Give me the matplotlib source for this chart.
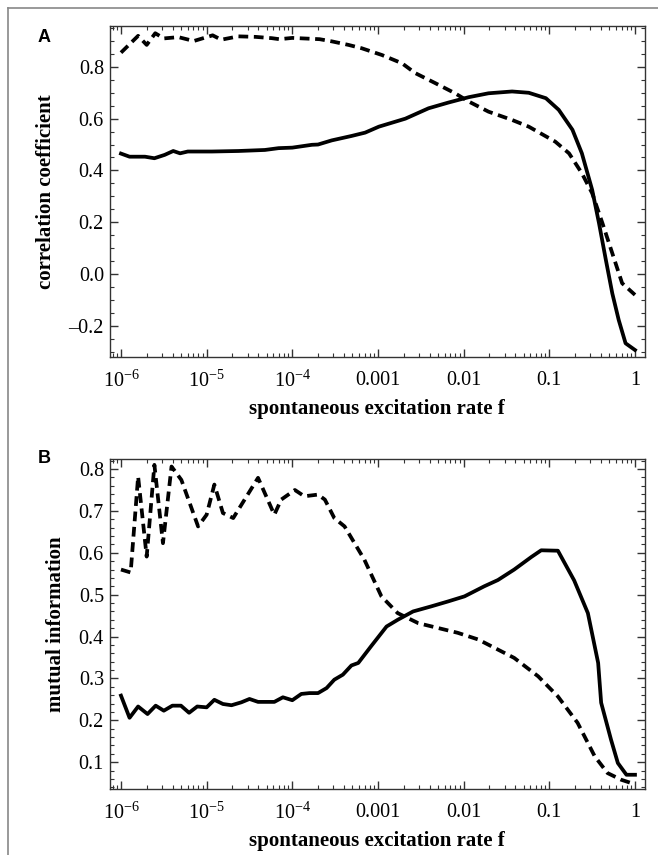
import matplotlib
matplotlib.use('Agg')
import matplotlib.pyplot as plt
from matplotlib.ticker import LogLocator, MultipleLocator, FixedLocator, FixedFormatter, NullFormatter
from matplotlib.lines import Line2D
import numpy as np

plt.rcParams['font.family'] = 'Liberation Serif'
plt.rcParams['mathtext.fontset'] = 'custom'
plt.rcParams['mathtext.rm'] = 'Liberation Serif'
plt.rcParams['mathtext.it'] = 'Liberation Serif:italic'
plt.rcParams['mathtext.bf'] = 'Liberation Serif:bold'

# values, x given as log10(f)
a_solid_lx = [-6.0, -5.9, -5.72, -5.61, -5.49, -5.39, -5.31, -5.22, -4.94, -4.63, -4.32, -4.16, -4.0,
              -3.77, -3.7, -3.54, -3.31, -3.15, -2.99, -2.68, -2.41, -2.18, -1.94, -1.71, -1.435,
              -1.24, -1.04, -0.89, -0.73, -0.62, -0.5, -0.42, -0.34, -0.265, -0.19, -0.11, 0.0]
a_solid_y = [0.465, 0.453, 0.453, 0.447, 0.46, 0.475, 0.466, 0.473, 0.473, 0.475, 0.479, 0.486, 0.488,
             0.499, 0.5, 0.516, 0.533, 0.546, 0.569, 0.6, 0.64, 0.662, 0.683, 0.698, 0.705,
             0.7, 0.679, 0.634, 0.557, 0.466, 0.325, 0.196, 0.054, -0.075, -0.178, -0.268, -0.294]

a_dash_lx = [-6.0, -5.8, -5.7, -5.6, -5.5, -5.33, -5.15, -4.93, -4.83, -4.63, -4.43, -4.24, -4.15,
             -4.0, -3.68, -3.53, -3.345, -3.19, -2.955, -2.72, -2.565, -2.33, -2.1, -1.94, -1.71,
             -1.435, -1.24, -0.93, -0.77, -0.62, -0.5, -0.38, -0.265, -0.15, 0.0]
a_dash_y = [0.855, 0.92, 0.885, 0.93, 0.91, 0.915, 0.9, 0.922, 0.905, 0.918, 0.916, 0.911, 0.907,
            0.912, 0.907, 0.898, 0.885, 0.872, 0.846, 0.814, 0.776, 0.737, 0.698, 0.666, 0.627,
            0.595, 0.569, 0.511, 0.466, 0.389, 0.312, 0.196, 0.08, -0.036, -0.081]

b_solid_lx = [-6.0, -5.9, -5.8, -5.69, -5.595, -5.5, -5.4, -5.3, -5.205, -5.11, -5.0, -4.91, -4.81,
              -4.71, -4.595, -4.5, -4.4, -4.21, -4.11, -4.0, -3.895, -3.8, -3.7, -3.6, -3.51, -3.41,
              -3.31, -3.23, -3.08, -2.9, -2.77, -2.59, -2.38, -2.18, -1.99, -1.76, -1.6, -1.41,
              -1.21, -1.095, -0.9, -0.71, -0.55, -0.43, -0.395, -0.28, -0.2, -0.1, 0.0]
b_solid_y = [0.259, 0.206, 0.233, 0.215, 0.235, 0.223, 0.235, 0.235, 0.218, 0.233, 0.231, 0.249, 0.239,
             0.236, 0.243, 0.251, 0.244, 0.244, 0.255, 0.248, 0.263, 0.265, 0.265, 0.277, 0.297, 0.309,
             0.331, 0.337, 0.377, 0.424, 0.44, 0.46, 0.472, 0.484, 0.496, 0.52, 0.535, 0.56,
             0.59, 0.606, 0.605, 0.534, 0.456, 0.337, 0.242, 0.154, 0.098, 0.07, 0.07]

b_dash_lx = [-6.0, -5.887, -5.8, -5.7, -5.61, -5.51, -5.41, -5.295, -5.1, -5.0, -4.91, -4.81, -4.69,
             -4.4, -4.21, -4.13, -3.97, -3.86, -3.7, -3.62, -3.51, -3.39, -3.16, -2.96, -2.77,
             -2.53, -2.07, -1.83, -1.41, -1.13, -0.9, -0.67, -0.47, -0.32, -0.16, -0.04, 0.0]
b_dash_y = [0.56, 0.553, 0.782, 0.591, 0.81, 0.623, 0.806, 0.774, 0.663, 0.691, 0.763, 0.695, 0.683,
            0.779, 0.691, 0.727, 0.75, 0.735, 0.739, 0.727, 0.683, 0.663, 0.584, 0.496, 0.456,
            0.432, 0.409, 0.393, 0.349, 0.305, 0.257, 0.194, 0.114, 0.074, 0.058, 0.05, 0.05]

x_ticks = [1e-6, 1e-5, 1e-4, 1e-3, 1e-2, 1e-1, 1]
x_labels = ['$10^{-6}$', '$10^{-5}$', '$10^{-4}$', '0.001', '0.01', '0.1', '1']
a_yticks = [-0.2, 0.0, 0.2, 0.4, 0.6, 0.8]
a_ylabels = ['\u20130.2', '0.0', '0.2', '0.4', '0.6', '0.8']
b_yticks = [0.1, 0.2, 0.3, 0.4, 0.5, 0.6, 0.7, 0.8]
b_ylabels = ['0.1', '0.2', '0.3', '0.4', '0.5', '0.6', '0.7', '0.8']

fig = plt.figure(figsize=(6.58, 8.55), dpi=100)

# gray frame (top and left edges)
fig.add_artist(Line2D([8 / 658, 1.0], [1 - 8 / 855, 1 - 8 / 855], color='#888888', lw=1.2))
fig.add_artist(Line2D([8 / 658, 8 / 658], [0.0, 1 - 8 / 855], color='#888888', lw=1.2))

axA = fig.add_axes([109.5 / 658, 1 - 357 / 855, 535 / 658, 331 / 855])
axB = fig.add_axes([109.5 / 658, 1 - 789 / 855, 535 / 658, 330 / 855])

lw = 2.7
for ax, sx, sy, dx, dy in [(axA, a_solid_lx, a_solid_y, a_dash_lx, a_dash_y),
                           (axB, b_solid_lx, b_solid_y, b_dash_lx, b_dash_y)]:
    ax.plot(10 ** np.array(sx), sy, color='black', lw=lw)
    ax.plot(10 ** np.array(dx), dy, color='black', lw=lw, linestyle=(0, (2.6, 1.5)))
    ax.set_xscale('log')
    ax.set_xlim(10 ** -6.134, 10 ** 0.111)
    ax.xaxis.set_major_locator(FixedLocator(x_ticks))
    ax.xaxis.set_major_formatter(FixedFormatter(x_labels))
    ax.xaxis.set_minor_locator(LogLocator(base=10, subs=np.arange(2, 10), numticks=20))
    ax.xaxis.set_minor_formatter(NullFormatter())
    ax.tick_params(which='both', direction='in', top=True, right=True, colors='#333333',
                   labelcolor='black', labelsize=14.5)
    ax.tick_params(which='major', length=6, width=1.0)
    ax.tick_params(which='minor', length=3, width=0.8)
    ax.tick_params(axis='x', pad=10)
    ax.tick_params(axis='y', pad=4)
    for s in ax.spines.values():
        s.set_color('#333333')
        s.set_linewidth(1.0)
    ax.set_xlabel('spontaneous excitation rate f', fontsize=15, fontweight='bold', labelpad=5)

axA.set_ylim(-0.321, 0.958)
axA.yaxis.set_major_locator(FixedLocator(a_yticks))
axA.yaxis.set_major_formatter(FixedFormatter(a_ylabels))
axA.yaxis.set_minor_locator(MultipleLocator(0.05))
axA.set_ylabel('correlation coefficient', fontsize=15, fontweight='bold', labelpad=9)

axB.set_ylim(0.036, 0.824)
axB.yaxis.set_major_locator(FixedLocator(b_yticks))
axB.yaxis.set_major_formatter(FixedFormatter(b_ylabels))
axB.yaxis.set_minor_locator(MultipleLocator(0.02))
axB.set_ylabel('mutual information', fontsize=15, fontweight='bold', labelpad=9)

fig.text(38 / 658, 1 - 38 / 855, 'A', fontsize=13, fontweight='bold', family='Liberation Sans',
         ha='left', va='center')
fig.text(38 / 658, 1 - 458 / 855, 'B', fontsize=13, fontweight='bold', family='Liberation Sans',
         ha='left', va='center')

fig.savefig('out.png', dpi=100)
